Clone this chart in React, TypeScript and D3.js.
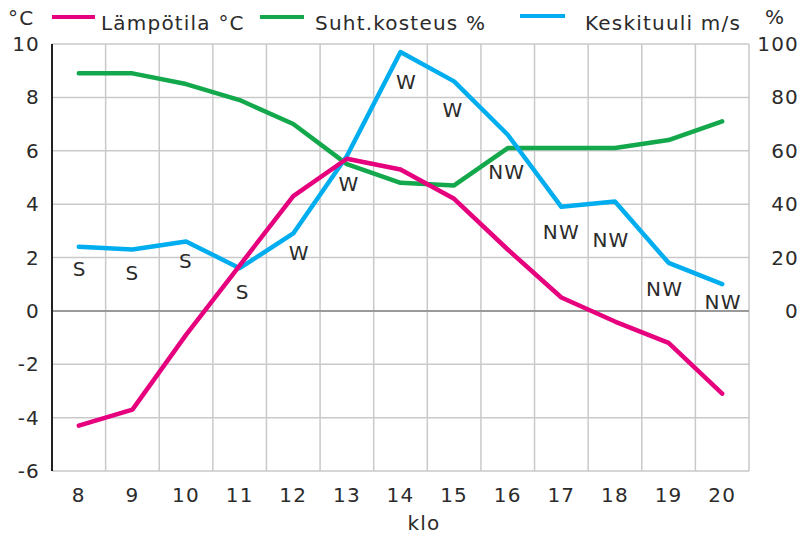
import React from "react";
import * as d3 from "d3";

const hours = [8, 9, 10, 11, 12, 13, 14, 15, 16, 17, 18, 19, 20];
const temperature = [-4.3, -3.7, -0.9, 1.7, 4.3, 5.7, 5.3, 4.2, 2.3, 0.5, -0.4, -1.2, -3.1];
const humidity = [89, 89, 85, 79, 70, 55, 48, 47, 61, 61, 61, 64, 71];
const wind = [2.4, 2.3, 2.6, 1.6, 2.9, 5.8, 9.7, 8.6, 6.6, 3.9, 4.1, 1.8, 1.0];
const windDir = ["S", "S", "S", "S", "W", "W", "W", "W", "NW", "NW", "NW", "NW", "NW"];
const leftTicks = [-6, -4, -2, 0, 2, 4, 6, 8, 10];
const rightTicks = [0, 20, 40, 60, 80, 100];
const legendItems = ["Lämpötila °C", "Suht.kosteus %", "Keskituuli m/s"];

const labelDy = [22, 24, 20, 24, 20, 28, 30, 29, 37, 25, 39, 26, 18];
const labelDx = [1, 0, 0, 3, 6, 2, 6, -1, -1, 0, -4, -4, 1];

const W = 806, H = 535;
const L = 52, R = 749, T = 44, B = 471;
const FONT = "'DejaVu Sans', 'Noto Sans', sans-serif";
const TXT = "#2b2b2b";
const PINK = "#e6007e", GREEN = "#13a84b", BLUE = "#00aeef";
const LS = 1.2;

export default function App() {
  const x = d3.scaleBand<number>().domain(hours).range([L, R]);
  const xc = (h: number) => (x(h) as number) + x.bandwidth() / 2;
  const y = d3.scaleLinear().domain([-6, 10]).range([B, T]);
  const yR = d3.scaleLinear().domain([-60, 100]).range([B, T]);

  const lineT = d3.line<number>().x((_, i) => xc(hours[i])).y((d) => y(d));
  const lineH = d3.line<number>().x((_, i) => xc(hours[i])).y((d) => yR(d));

  const bounds = [...hours.map((h) => x(h) as number), R];
  const tp = { fontSize: 20, fill: TXT, fontFamily: FONT, letterSpacing: LS } as any;

  return (
    <svg width={W} height={H} style={{ position: "absolute", left: 0, top: 0 }}>
      <rect width={W} height={H} fill="#fff" />
      {bounds.map((bx, i) => (
        <line key={"v" + i} x1={bx} x2={bx} y1={T} y2={B} stroke="#c9c9c9" strokeWidth={1.5} />
      ))}
      {leftTicks.map((t) => (
        <line key={"h" + t} x1={L} x2={R} y1={y(t)} y2={y(t)} stroke={t === 0 ? "#9a9a9a" : "#c9c9c9"} strokeWidth={t === 0 ? 2 : 1.5} />
      ))}
      <line x1={L} x2={L} y1={T} y2={B} stroke="#222" strokeWidth={2} />
      {leftTicks.map((t) => (
        <text key={"lt" + t} x={40} y={y(t)} dy="0.35em" textAnchor="end" {...tp}>{t}</text>
      ))}
      {rightTicks.map((t) => (
        <text key={"rt" + t} x={799} y={yR(t)} dy="0.35em" textAnchor="end" {...tp}>{t}</text>
      ))}
      {hours.map((h) => (
        <text key={"x" + h} x={xc(h)} y={502} textAnchor="middle" {...tp}>{h}</text>
      ))}
      <text x={424} y={530} textAnchor="middle" {...tp}>klo</text>
      <path d={lineH(humidity) || ""} fill="none" stroke={GREEN} strokeWidth={4.5} strokeLinejoin="round" strokeLinecap="round" />
      <path d={lineT(wind) || ""} fill="none" stroke={BLUE} strokeWidth={4.5} strokeLinejoin="round" strokeLinecap="round" />
      <path d={lineT(temperature) || ""} fill="none" stroke={PINK} strokeWidth={4.5} strokeLinejoin="round" strokeLinecap="round" />
      {windDir.map((d, i) => (
        <text key={"wd" + i} x={xc(hours[i]) + labelDx[i]} y={y(wind[i]) + labelDy[i]} dy="0.35em" textAnchor="middle" {...tp}>{d}</text>
      ))}
      <text x={8} y={25} {...tp}>°C</text>
      <line x1={52} x2={95} y1={17} y2={17} stroke={PINK} strokeWidth={4} />
      <text x={101} y={30} {...tp}>{legendItems[0]}</text>
      <line x1={260} x2={304} y1={17} y2={17} stroke={GREEN} strokeWidth={4} />
      <text x={315} y={30} {...tp}>{legendItems[1]}</text>
      <line x1={520} x2={565} y1={16} y2={16} stroke={BLUE} strokeWidth={4} />
      <text x={585} y={30} {...tp}>{legendItems[2]}</text>
      <text x={765} y={24} {...tp}>%</text>
    </svg>
  );
}
